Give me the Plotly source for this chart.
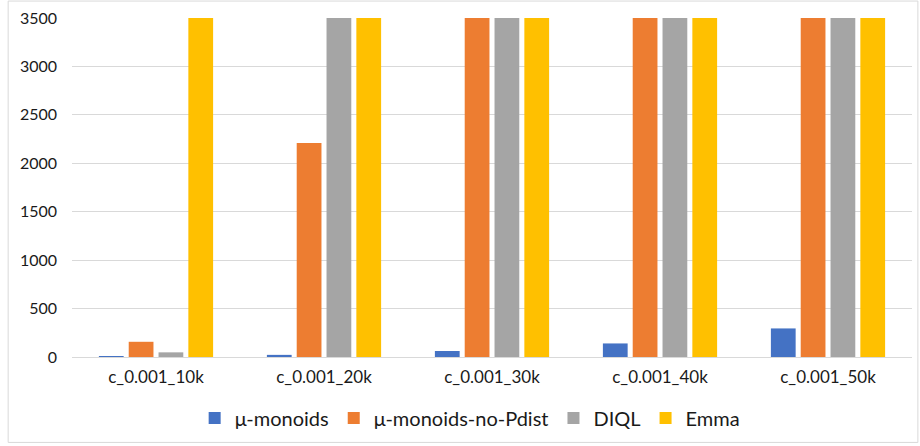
import plotly.graph_objects as go

categories = ["c_0.001_10k", "c_0.001_20k", "c_0.001_30k", "c_0.001_40k", "c_0.001_50k"]
mu_monoids = [8, 22, 62, 140, 295]
mu_monoids_no_pdist = [157, 2210, 3500, 3500, 3500]
diql = [48, 3500, 3500, 3500, 3500]
emma = [3500, 3500, 3500, 3500, 3500]

series = [
    ("μ-monoids", mu_monoids, "#4472C4"),
    ("μ-monoids-no-Pdist", mu_monoids_no_pdist, "#ED7D31"),
    ("DIQL", diql, "#A5A5A5"),
    ("Emma", emma, "#FFC000"),
]

fig = go.Figure()
for name, vals, color in series:
    fig.add_trace(go.Bar(x=categories, y=vals, name=name,
                         marker=dict(color=color, line=dict(width=0))))

fig.update_layout(
    width=920, height=446,
    margin=dict(l=72, r=8, t=18, b=87),
    paper_bgcolor="white", plot_bgcolor="white",
    font=dict(family="Lato", size=17, color="#1a1a1a"),
    barmode="group", bargap=0.29, bargroupgap=0.17,
    showlegend=True,
    legend=dict(orientation="h", x=0.474, xanchor="center", y=-0.18, yanchor="middle",
                font=dict(size=20), itemwidth=30, traceorder="normal"),
    xaxis=dict(showgrid=False, showline=False, ticks="", ticklabelstandoff=8,
               tickfont=dict(size=17)),
    yaxis=dict(range=[0, 3500], tickvals=list(range(0, 3501, 500)),
               showgrid=True, gridcolor="#d9d9d9", gridwidth=1,
               zeroline=True, zerolinecolor="#d9d9d9", zerolinewidth=1,
               ticks="", ticklabelstandoff=14, tickfont=dict(size=16)),
    shapes=[dict(type="rect", xref="paper", yref="paper",
                 x0=-0.076, x1=1.007, y0=-0.252, y1=1.05,
                 line=dict(color="#d9d9d9", width=1), layer="below")],
)

# drop the default page margin so the chart sits at the window's corner
fig.write_html("out.html", config={"displayModeBar": False},
               post_script="document.body.style.margin='0';")
